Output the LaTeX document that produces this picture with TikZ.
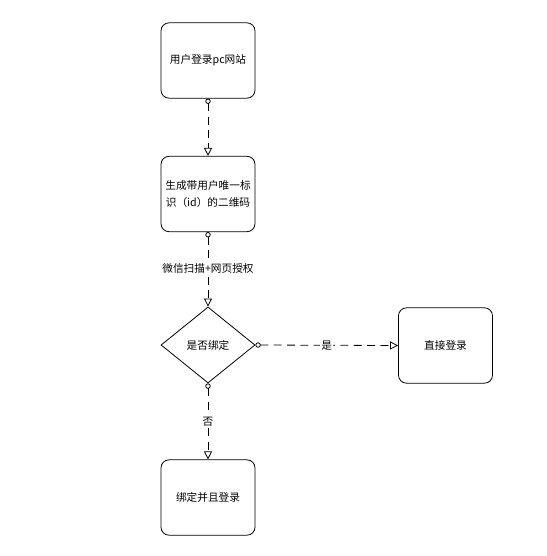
\documentclass[tikz,border=0pt]{standalone}
\usepackage{fontspec}
\setmainfont{Noto Sans CJK SC}
\usetikzlibrary{shapes.geometric,arrows.meta}
\begin{document}
\begin{tikzpicture}[x=0.75pt,y=-0.75pt,
  every node/.style={font=\fontsize{8}{12.5}\selectfont},
  procbox/.style={draw, rounded corners=6pt, minimum width=70.5pt, minimum height=56.5pt, inner sep=0pt, align=center, line width=0.6pt},
  decbox/.style={draw, diamond, aspect=1.24, minimum width=70.5pt, minimum height=57pt, inner sep=0pt, line width=0.6pt},
  flow/.style={draw, line width=0.6pt, dash pattern=on 6pt off 4pt, {Circle[open,length=4pt,width=4pt]}-{Triangle[open,length=6pt,width=6pt]}},
  lbl/.style={fill=white, inner sep=1pt}]
\useasboundingbox (0,0) rectangle (546,556);
\node[procbox] (a) at (208,60.5) {用户登录pc网站};
\node[procbox] (b) at (208,194) {生成带用户唯一标\\识（id）的二维码};
\node[decbox] (c) at (208,345) {是否绑定};
\node[procbox] (d) at (445.5,345.5) {直接登录};
\node[procbox] (e) at (208,497.5) {绑定并且登录};
\draw[flow] (a.south) -- (b.north);
\draw[flow] (b.south) -- node[lbl, pos=0.49] {微信扫描+网页授权} (c.north);
\draw[flow] (c.east) -- node[lbl, pos=0.5] {是} (d.west);
\draw[flow] (c.south) -- node[lbl, pos=0.5] {否} (e.north);
\end{tikzpicture}
\end{document}
